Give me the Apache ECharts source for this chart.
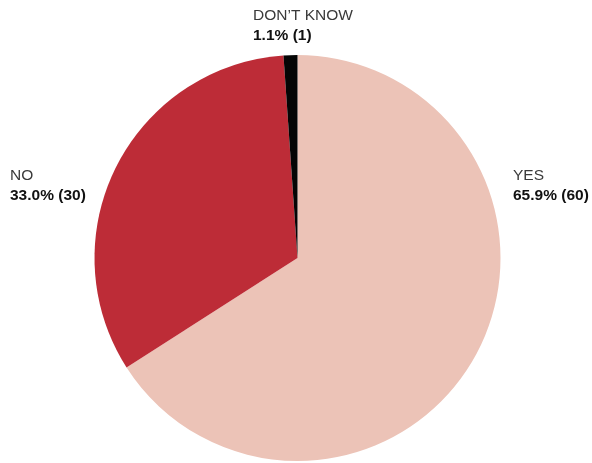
<!DOCTYPE html>
<html><head><meta charset="utf-8">
<script src="https://cdn.jsdelivr.net/npm/echarts@6/dist/echarts.min.js"></script>
<style>html,body{margin:0;padding:0;background:#fff}#c{width:592px;height:463px}</style>
</head><body><div id="c"></div>
<script>
const categories = ["YES", "NO", "DON\u2019T KNOW"];
const counts = [60, 30, 1];
const percents = [65.9, 33.0, 1.1];
const colors = ["#ecc3b7", "#bd2c37", "#050505"];
const labelSpots = [[513, 166, 'left'], [10, 166, 'left'], [253, 6, 'left']];

const FONT = '"Liberation Sans Narrow", "Liberation Sans", Arial, sans-serif';
const chart = echarts.init(document.getElementById('c'), null, {renderer: 'canvas'});
chart.setOption({
  animation: false,
  series: [{
    type: 'pie',
    center: [297.5, 258],
    radius: [0, 203],
    startAngle: 90,
    clockwise: true,
    silent: true,
    data: categories.map((n, i) => ({name: n, value: counts[i], itemStyle: {color: colors[i]}})),
    label: {
      show: true,
      position: 'outside',
      overflow: 'none',
      width: 200,
      bleedMargin: 0,
      formatter: p => '{n|' + p.name + '}\n{v|' + percents[p.dataIndex].toFixed(1) + '% (' + counts[p.dataIndex] + ')}',
      rich: {
        n: {fontFamily: FONT, fontSize: 15.5, color: '#3a3a3a', lineHeight: 20},
        v: {fontFamily: FONT, fontSize: 15.5, fontWeight: 'bold', color: '#111', lineHeight: 19}
      }
    },
    labelLine: {show: false},
    labelLayout: function (params) {
      const s = labelSpots[params.dataIndex];
      return {x: s[0], y: s[1], align: s[2], verticalAlign: 'top', width: 200};
    }
  }]
});
</script>
</body></html>
